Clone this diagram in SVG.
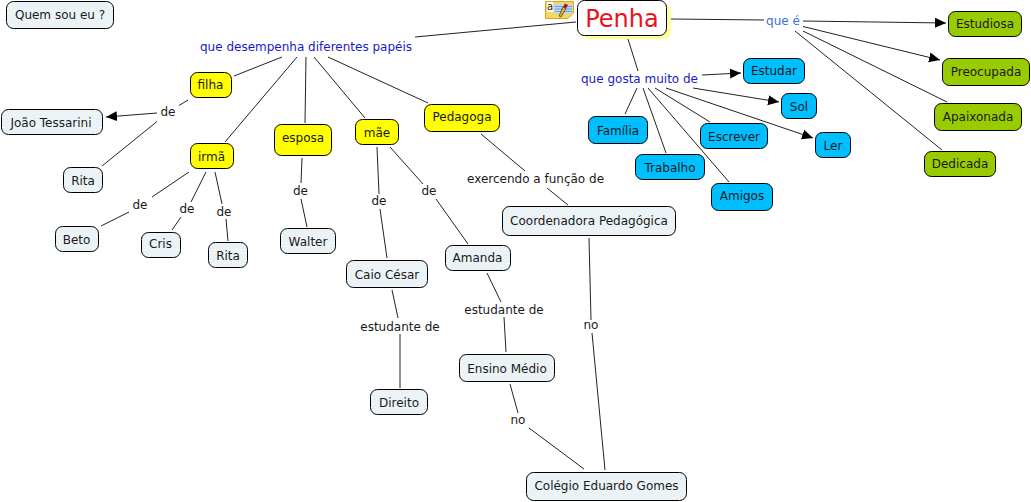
<svg xmlns="http://www.w3.org/2000/svg" width="1031" height="502" viewBox="0 0 1031 502">
<defs><marker id="a" markerUnits="userSpaceOnUse" markerWidth="12" markerHeight="11" refX="11" refY="5.5" orient="auto"><path d="M0,0.5L11,5.5L0,10.5Z" fill="#000"/></marker></defs>
<style>
text{font-family:"DejaVu Sans",Verdana,sans-serif;font-size:12px;text-anchor:middle;fill:#1a1a1a}
.n rect{stroke:#000;stroke-width:1}
.w rect{fill:#ecf3f6}.y rect{fill:#ffff00}.b rect{fill:#00bfff}.g rect{fill:#99cc00}
#c line{stroke:#222;stroke-width:1}
.l{fill:#1a1ac8}
</style>
<rect width="1031" height="502" fill="#fff"/>
<g id="c">
<line x1="415" y1="37" x2="576" y2="22"/>
<line x1="282" y1="57" x2="234" y2="76"/><line x1="297" y1="57" x2="225" y2="142"/><line x1="306" y1="57" x2="305" y2="123"/><line x1="314" y1="57" x2="365" y2="118"/><line x1="328" y1="57" x2="428" y2="103"/>
<line x1="188" y1="100" x2="179" y2="105.5"/><line x1="157" y1="113" x2="106" y2="117" marker-end="url(#a)"/><line x1="157" y1="121.5" x2="102" y2="166"/>
<line x1="189" y1="172" x2="152" y2="197"/><line x1="129" y1="212" x2="101" y2="226"/>
<line x1="206" y1="172" x2="191" y2="202"/><line x1="181" y1="217" x2="172" y2="230"/>
<line x1="215" y1="172" x2="222" y2="204"/><line x1="226" y1="219" x2="228" y2="241"/>
<line x1="302" y1="158" x2="301" y2="183"/><line x1="301" y1="199" x2="307" y2="227"/>
<line x1="377" y1="147" x2="379" y2="194"/><line x1="380" y1="209" x2="387" y2="258"/>
<line x1="390" y1="147" x2="423" y2="184"/><line x1="436" y1="199" x2="468" y2="244"/>
<line x1="392" y1="290" x2="398" y2="318"/><line x1="400" y1="334" x2="400" y2="388"/>
<line x1="487" y1="273" x2="501" y2="302"/><line x1="504" y1="317" x2="506" y2="352"/>
<line x1="481" y1="134" x2="525" y2="171"/><line x1="547" y1="188" x2="568" y2="205"/>
<line x1="589" y1="238" x2="591" y2="320"/><line x1="592" y1="333" x2="605" y2="470"/>
<line x1="510" y1="384" x2="518" y2="413"/><line x1="529" y1="428" x2="584" y2="469"/>
<line x1="628" y1="39" x2="638" y2="71"/>
<line x1="637" y1="88" x2="625" y2="114"/><line x1="643" y1="88" x2="666" y2="153"/><line x1="648" y1="88" x2="729" y2="182"/><line x1="655" y1="88" x2="710" y2="122"/><line x1="666" y1="88" x2="813" y2="138" marker-end="url(#a)"/><line x1="693" y1="88" x2="779" y2="102" marker-end="url(#a)"/><line x1="702" y1="75" x2="741" y2="73" marker-end="url(#a)"/>
<line x1="671" y1="19" x2="764" y2="20"/>
<line x1="803" y1="21" x2="946" y2="23" marker-end="url(#a)"/><line x1="803" y1="26.5" x2="940" y2="60" marker-end="url(#a)"/><line x1="803" y1="31" x2="947" y2="102"/><line x1="795" y1="31" x2="942" y2="150"/>
</g>
<g id="linking">
<text class="l" x="306" y="51">que desempenha diferentes papéis</text>
<text class="l" x="639.5" y="82.5">que gosta muito de</text>
<text x="783" y="25" style="fill:#3f6fd8">que é</text>
<text x="168" y="116">de</text><text x="140" y="209">de</text><text x="187" y="213">de</text><text x="224" y="215.5">de</text><text x="300.5" y="195">de</text><text x="379" y="205">de</text><text x="429" y="195">de</text>
<text x="400" y="330.5">estudante de</text><text x="504" y="314">estudante de</text><text x="535.5" y="182.5">exercendo a função de</text><text x="591" y="329">no</text><text x="518" y="424">no</text>
</g>
<g id="icon"><path d="M545.5,1.5H573.5V13L568,18.5H545.5Z" fill="#f7d65f" stroke="#d9a520"/><rect x="547" y="2" width="6" height="10" fill="#fff"/><path d="M554,4H572.5V14H554Z" fill="#bcd8f0"/><path d="M555,6.5H572M555,9H572M555,11.5H572" stroke="#5a8ab8" stroke-width="0.7"/><path d="M559,16L563,7L566,8.5L561,17Z" fill="#e8b030" stroke="#333" stroke-width="0.7"/><path d="M563,7L565,3.5L568,5L566,8.5Z" fill="#a01818"/><text x="550" y="10" style="font-size:10px">a</text></g>
<g id="penha" class="n"><rect x="581" y="4" width="90" height="35" rx="7" style="fill:#ffff99;stroke:none"/><rect x="577.5" y="0.5" width="89" height="35" rx="7" fill="#fff"/><text x="622" y="27" style="font-size:24px;fill:#e8141c">Penha</text></g>
<g id="quem" class="n w"><rect x="6.5" y="1.5" width="107" height="27" rx="7"/><text x="60" y="18.5">Quem sou eu ?</text></g>
<g id="joao" class="n w"><rect x="1.5" y="109.5" width="101" height="25" rx="7"/><text x="51" y="126.5">João Tessarini</text></g>
<g id="rita1" class="n w"><rect x="63.5" y="167.5" width="39" height="25" rx="7"/><text x="83" y="185">Rita</text></g>
<g id="filha" class="n y"><rect x="190.5" y="72.5" width="41" height="25" rx="7"/><text x="210.5" y="89">filha</text></g>
<g id="irma" class="n y"><rect x="190.5" y="143.5" width="43" height="25" rx="7"/><text x="211.5" y="161">irmã</text></g>
<g id="beto" class="n w"><rect x="55.5" y="226.5" width="43" height="25" rx="7"/><text x="76.5" y="244">Beto</text></g>
<g id="cris" class="n w"><rect x="141.5" y="232.5" width="39" height="25" rx="7"/><text x="160.5" y="248">Cris</text></g>
<g id="rita2" class="n w"><rect x="208.5" y="242.5" width="39" height="25" rx="7"/><text x="228" y="260">Rita</text></g>
<g id="esposa" class="n y"><rect x="274.5" y="124.5" width="57" height="31" rx="7"/><text x="303" y="142">esposa</text></g>
<g id="walter" class="n w"><rect x="280.5" y="228.5" width="55" height="25" rx="7"/><text x="308" y="245.5">Walter</text></g>
<g id="mae" class="n y"><rect x="355.5" y="119.5" width="43" height="25" rx="7"/><text x="377" y="136.5">mãe</text></g>
<g id="pedagoga" class="n y"><rect x="424.5" y="104.5" width="75" height="27" rx="7"/><text x="462" y="121">Pedagoga</text></g>
<g id="coord" class="n w"><rect x="502.5" y="206.5" width="173" height="29" rx="7"/><text x="589" y="225">Coordenadora Pedagógica</text></g>
<g id="caio" class="n w"><rect x="346.5" y="260.5" width="81" height="27" rx="7"/><text x="387" y="279">Caio César</text></g>
<g id="amanda" class="n w"><rect x="445.5" y="245.5" width="65" height="25" rx="7"/><text x="477.5" y="262">Amanda</text></g>
<g id="ensino" class="n w"><rect x="459.5" y="354.5" width="95" height="27" rx="7"/><text x="507" y="373">Ensino Médio</text></g>
<g id="direito" class="n w"><rect x="370.5" y="389.5" width="57" height="25" rx="7"/><text x="399" y="407">Direito</text></g>
<g id="colegio" class="n w"><rect x="526.5" y="472.5" width="160" height="28" rx="7"/><text x="606.5" y="490">Colégio Eduardo Gomes</text></g>
<g id="estudar" class="n b"><rect x="743.5" y="58.5" width="61" height="25" rx="7"/><text x="774" y="75">Estudar</text></g>
<g id="sol" class="n b"><rect x="781.5" y="93.5" width="35" height="25" rx="7"/><text x="799" y="110.5">Sol</text></g>
<g id="familia" class="n b"><rect x="588.5" y="116.5" width="59" height="27" rx="7"/><text x="618" y="135">Família</text></g>
<g id="escrever" class="n b"><rect x="700.5" y="123.5" width="67" height="25" rx="7"/><text x="734" y="141">Escrever</text></g>
<g id="ler" class="n b"><rect x="815.5" y="132.5" width="35" height="25" rx="7"/><text x="833" y="150">Ler</text></g>
<g id="trabalho" class="n b"><rect x="635.5" y="154.5" width="69" height="25" rx="7"/><text x="670" y="171.5">Trabalho</text></g>
<g id="amigos" class="n b"><rect x="711.5" y="183.5" width="61" height="27" rx="7"/><text x="742" y="200">Amigos</text></g>
<g id="estudiosa" class="n g"><rect x="948.5" y="11.5" width="73" height="25" rx="7"/><text x="985" y="28">Estudiosa</text></g>
<g id="preocupada" class="n g"><rect x="942.5" y="58.5" width="87" height="27" rx="7"/><text x="986" y="75.5">Preocupada</text></g>
<g id="apaixonada" class="n g"><rect x="934.5" y="103.5" width="87" height="27" rx="7"/><text x="978" y="120.5">Apaixonada</text></g>
<g id="dedicada" class="n g"><rect x="924.5" y="151.5" width="71" height="25" rx="7"/><text x="960" y="168">Dedicada</text></g>
</svg>
